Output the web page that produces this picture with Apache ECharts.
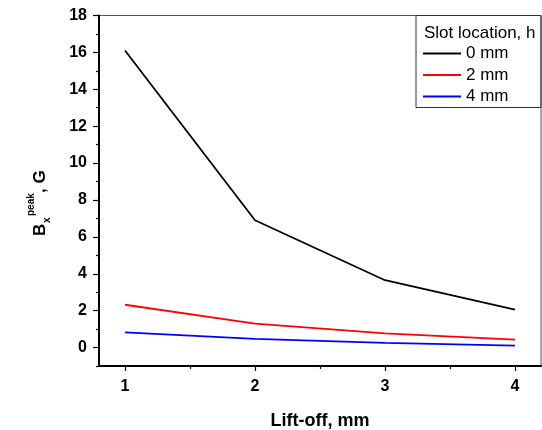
<!DOCTYPE html>
<html>
<head>
<meta charset="utf-8">
<script src="https://cdn.jsdelivr.net/npm/echarts@6/dist/echarts.min.js"></script>
<style>
html,body{margin:0;padding:0;background:#fff;}
#chart{width:542px;height:430px;}
</style>
</head>
<body>
<div id="chart"></div>
<script>
// Peak Bx field versus lift-off for three slot locations
const liftOff = [1, 2, 3, 4];
const slot0mm = [16.1, 6.9, 3.65, 2.05];
const slot2mm = [2.32, 1.3, 0.77, 0.43];
const slot4mm = [0.82, 0.47, 0.25, 0.1];
const seriesNames = ['0 mm', '2 mm', '4 mm'];
const xMajorTicks = [1, 2, 3, 4];
const xMinorTicks = [1.5, 2.5, 3.5];
const yMajorTicks = [0, 2, 4, 6, 8, 10, 12, 14, 16, 18];
const yMinorTicks = [-1, 1, 3, 5, 7, 9, 11, 13, 15, 17];

const FONT = 'Liberation Sans, Arial, sans-serif';
const chart = echarts.init(document.getElementById('chart'));

function pairs(ys) { return liftOff.map((x, i) => [x, ys[i]]); }

const lineSeries = (name, data, color) => ({
  name, type: 'line', data: pairs(data),
  xAxisIndex: 0, yAxisIndex: 0,
  symbol: 'none', showSymbol: false,
  lineStyle: { color, width: 1.8 },
  itemStyle: { color },
  animation: false
});

chart.setOption({
  animation: false,
  grid: {
    left: 99, right: 1, top: 15.5, bottom: 64,
    outerBoundsMode: 'none', containLabel: false,
    show: true, borderColor: '#555', borderWidth: 1
  },
  xAxis: [{
    type: 'value', min: 0.8, max: 4.2,
    axisLine: { show: true, onZero: false, lineStyle: { color: '#000', width: 2 } },
    axisTick: { show: true, inside: false, length: 5, customValues: xMajorTicks, lineStyle: { color: '#000', width: 1.2 } },
    axisLabel: { customValues: xMajorTicks, margin: 13, color: '#000', fontFamily: FONT, fontWeight: 'bold', fontSize: 16 },
    splitLine: { show: false },
    name: 'Lift-off, mm', nameLocation: 'middle', nameGap: 46,
    nameTextStyle: { color: '#000', fontFamily: FONT, fontWeight: 'bold', fontSize: 18 }
  }, {
    type: 'value', min: 0.8, max: 4.2, position: 'bottom',
    axisLine: { show: false, onZero: false },
    axisTick: { show: true, inside: false, length: 3, customValues: xMinorTicks, lineStyle: { color: '#000', width: 1.2 } },
    axisLabel: { show: false },
    splitLine: { show: false }
  }],
  yAxis: [{
    type: 'value', min: -1, max: 18,
    axisLine: { show: true, onZero: false, lineStyle: { color: '#000', width: 2 } },
    axisTick: { show: true, inside: false, length: 6, customValues: yMajorTicks, lineStyle: { color: '#000', width: 1.2 } },
    axisLabel: { customValues: yMajorTicks, margin: 12, color: '#000', fontFamily: FONT, fontWeight: 'bold', fontSize: 16 },
    splitLine: { show: false }
  }, {
    type: 'value', min: -1, max: 18, position: 'left',
    axisLine: { show: false, onZero: false },
    axisTick: { show: true, inside: false, length: 3, customValues: yMinorTicks, lineStyle: { color: '#000', width: 1.2 } },
    axisLabel: { show: false },
    splitLine: { show: false }
  }],
  legend: {
    data: seriesNames,
    orient: 'vertical',
    left: 423, top: 45,
    itemWidth: 38, itemHeight: 2, itemGap: 4.5,
    icon: 'rect',
    textStyle: { color: '#000', fontFamily: FONT, fontSize: 17, lineHeight: 17, padding: [0, 0, 0, 0] },
    padding: 0
  },
  series: [
    lineSeries(seriesNames[0], slot0mm, '#000000'),
    lineSeries(seriesNames[1], slot2mm, '#ff0000'),
    lineSeries(seriesNames[2], slot4mm, '#0000ff')
  ],
  graphic: [
    {
      type: 'rect', silent: true, z: 10,
      shape: { x: 416, y: 15.5, width: 125, height: 92 },
      style: { fill: 'rgba(0,0,0,0)', stroke: '#333', lineWidth: 1 }
    },
    {
      type: 'text', silent: true, z: 11,
      x: 424, y: 33,
      style: { text: 'Slot location, h', fill: '#000', font: '17px ' + FONT, verticalAlign: 'middle' }
    },
    {
      // rotated axis title: B with sub "x" and sup "peak", then ", G"
      type: 'group', x: 32, y: 236, rotation: Math.PI / 2, silent: true,
      children: [
        { type: 'text', x: 0, y: 0, style: { text: 'B', fill: '#000', font: 'bold 17px ' + FONT, verticalAlign: 'alphabetic' } },
        { type: 'text', x: 13, y: 10, style: { text: 'x', fill: '#000', font: 'bold 10px ' + FONT, verticalAlign: 'alphabetic' } },
        { type: 'text', x: 20, y: -6, style: { text: 'peak', fill: '#000', font: 'bold 10px ' + FONT, verticalAlign: 'alphabetic' } },
        { type: 'text', x: 43, y: 0, style: { text: ', G', fill: '#000', font: 'bold 17px ' + FONT, verticalAlign: 'alphabetic' } }
      ]
    }
  ]
});
</script>
</body>
</html>
